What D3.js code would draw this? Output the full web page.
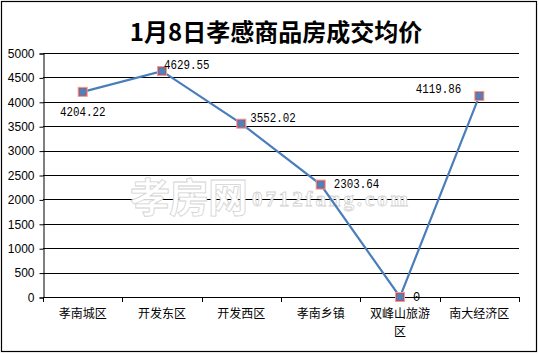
<!DOCTYPE html>
<html><head><meta charset="utf-8">
<script src="https://cdn.jsdelivr.net/npm/d3@7"></script>
<style>body{margin:0;background:#fff}svg{display:block}</style>
</head><body>
<svg id="c" width="539" height="354"></svg>
<script>
const categories = ["孝南城区","开发东区","开发西区","孝南乡镇","双峰山旅游区","南大经济区"];
const values = [4204.22, 4629.55, 3552.02, 2303.64, 0, 4119.86];
const valueLabels = ["4204.22","4629.55","3552.02","2303.64","0","4119.86"];
const yTicks = [0,500,1000,1500,2000,2500,3000,3500,4000,4500,5000];
const title = "1月8日孝感商品房成交均价";

const svg = d3.select("#c");
const L = 43, R = 519, T = 53, B = 297;
const x = d3.scaleBand().domain(categories).range([L, R]);
const y = d3.scaleLinear().domain([0, 5000]).range([B, T]);

svg.append("rect").attr("x",1.5).attr("y",1.5).attr("width",535).attr("height",350)
  .attr("fill","#fff").attr("stroke","#000").attr("stroke-width",1.2);

svg.append("text").attr("x",276).attr("y",41).attr("text-anchor","middle")
  .attr("font-family","'Noto Sans CJK SC', serif").attr("font-weight","bold")
  .attr("font-size",24).attr("fill","#000").text(title);

// gridlines
svg.append("g").selectAll("line").data(yTicks.filter(d=>d>0)).join("line")
  .attr("x1",L).attr("x2",R).attr("y1",d=>Math.round(y(d))+0.5).attr("y2",d=>Math.round(y(d))+0.5)
  .attr("stroke","#000").attr("stroke-width",1);

// watermark
const wm = svg.append("g").attr("fill","#fff").attr("stroke","#d2d2d2").attr("stroke-width",0.8);
wm.append("text").attr("x",130).attr("y",212).attr("font-family","'Noto Sans CJK SC'")
  .attr("font-size",40).attr("font-weight","bold").attr("textLength",118).text("孝房网");
wm.append("text").attr("x",252).attr("y",206).attr("font-family","'Liberation Serif'")
  .attr("font-size",21).attr("font-weight","bold").attr("textLength",156).text("0712fang.com");

// y axis
const yAxis = d3.axisLeft(y).tickValues(yTicks).tickSize(4).tickPadding(5).tickFormat(d3.format("d"));
const gy = svg.append("g").attr("transform",`translate(${L+0.5},0.5)`).call(yAxis);
gy.selectAll("text").attr("font-family","'Liberation Sans', Arial").attr("font-size",12).attr("fill","#000");
gy.selectAll("line,path").attr("stroke","#000");

// x axis
const xAxis = d3.axisBottom(x).tickSize(0).tickFormat("");
const gx = svg.append("g").attr("transform",`translate(0,${B+0.5})`).call(xAxis);
gx.select("path").attr("stroke","#000").attr("d",`M${L},0H${R}`);
const bounds = d3.range(categories.length+1).map(i => L + i*x.bandwidth());
svg.append("g").selectAll("line").data(bounds).join("line")
  .attr("x1",d=>Math.round(d)+0.5).attr("x2",d=>Math.round(d)+0.5)
  .attr("y1",B).attr("y2",B+5).attr("stroke","#000");
const catG = svg.append("g").attr("font-family","'Noto Sans CJK SC'").attr("font-size",12).attr("fill","#000");
categories.forEach(c => {
  const cx = x(c) + x.bandwidth()/2;
  const lines = c.length > 5 ? [c.slice(0,5), c.slice(5)] : [c];
  lines.forEach((t,i) => catG.append("text").attr("x",cx).attr("y",318 + i*18)
    .attr("text-anchor","middle").text(t));
});

// line
const pts = categories.map((c,i) => [x(c)+x.bandwidth()/2, y(values[i])]);
svg.append("path").datum(pts).attr("d",d3.line()).attr("fill","none")
  .attr("stroke","#4a7ebb").attr("stroke-width",2.2);

// markers
const mg = svg.append("g");
mg.selectAll("rect").data(pts).join("rect")
  .attr("x",d=>d[0]-4.5).attr("y",d=>d[1]-4.5).attr("width",9).attr("height",9)
  .attr("fill","#c0504d").attr("stroke","#e3a09e").attr("stroke-width",1);
mg.selectAll("circle").data(pts).join("circle")
  .attr("cx",d=>d[0]).attr("cy",d=>d[1]).attr("r",3.6).attr("fill","#4f81bd");

// data labels
const offs = [[0,24.5,"middle"],[2,-2,"start"],[9,-1.5,"start"],[13,3,"start"],[13,4,"start"],[-18,-3,"end"]];
const lg = svg.append("g").attr("font-family","'Liberation Mono', monospace").attr("font-size",12).attr("fill","#000");
pts.forEach((p,i) => {
  const t = lg.append("text").attr("x",p[0]+offs[i][0]).attr("y",p[1]+offs[i][1])
    .attr("text-anchor",offs[i][2]).text(valueLabels[i]);
  if (valueLabels[i].length > 1) t.attr("textLength", valueLabels[i].length*6.5).attr("lengthAdjust","spacingAndGlyphs");
});
</script>
</body></html>
